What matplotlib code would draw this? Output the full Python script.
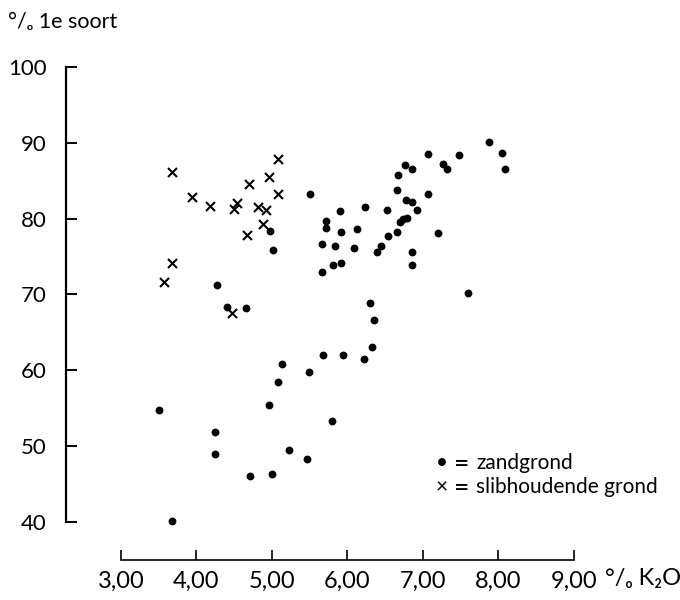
import matplotlib.pyplot as plt

# zandgrond (dots): % K2O vs % 1e soort
zand_k2o = [5.50, 4.98, 5.01, 4.27, 4.40, 4.65, 5.66, 5.83, 5.72, 5.72,
            5.66, 5.81, 5.91, 5.90, 6.23, 6.52, 5.92, 6.12, 6.09, 6.39,
            6.45, 6.53, 6.66, 6.69, 6.73, 6.79, 6.92, 6.78, 6.86, 6.66,
            6.67, 6.76, 6.85, 7.06, 7.06, 7.20, 6.85, 6.86, 7.26, 7.32,
            7.48, 7.88, 8.04, 8.09, 7.60, 6.30, 6.35, 6.33, 5.68, 5.94,
            6.22, 5.49, 5.79, 5.13, 5.08, 4.96, 3.51, 4.24, 4.25, 5.23,
            4.71, 5.00, 3.68, 5.46]
zand_soort = [83.3, 78.4, 75.9, 71.2, 68.3, 68.2, 76.7, 76.4, 79.7, 78.8,
              73.0, 73.9, 74.2, 81.0, 81.5, 81.1, 78.2, 78.6, 76.1, 75.6,
              76.4, 77.7, 78.2, 79.5, 80.0, 80.1, 81.1, 82.5, 82.2, 83.8,
              85.8, 87.1, 86.5, 88.5, 83.2, 78.1, 75.6, 73.9, 87.2, 86.6,
              88.4, 90.1, 88.6, 86.5, 70.2, 68.9, 66.7, 63.1, 62.0, 62.0,
              61.5, 59.8, 53.3, 60.8, 58.5, 55.4, 54.8, 51.8, 49.0, 49.5,
              46.0, 46.3, 40.1, 48.3]

# slibhoudende grond (crosses)
slib_k2o = [5.08, 3.67, 4.96, 4.70, 5.08, 3.94, 4.18, 4.54, 4.50, 4.82,
            4.92, 4.88, 4.67, 3.68, 3.57, 4.47]
slib_soort = [87.8, 86.2, 85.5, 84.6, 83.2, 82.9, 81.7, 82.0, 81.3, 81.6,
              81.1, 79.3, 77.8, 74.2, 71.7, 67.6]

x_ticks = [3, 4, 5, 6, 7, 8, 9]
x_labels = ["3,00", "4,00", "5,00", "6,00", "7,00", "8,00", "9,00"]
y_ticks = [40, 50, 60, 70, 80, 90, 100]
legend_labels = ["zandgrond", "slibhoudende grond"]

FONT = ["Lato", "DejaVu Sans"]
plt.rcParams["font.family"] = FONT

fig = plt.figure(figsize=(6.8, 6.0), dpi=100)
ax = fig.add_axes([0.0891, 0.0542, 0.7772, 0.8468])
ax.set_xlim(2.2, 9.2)
ax.set_ylim(34, 101)

ax.scatter(zand_k2o, zand_soort, marker="o", s=32, color="black",
           linewidths=0, zorder=3)
ax.scatter(slib_k2o, slib_soort, marker="x", s=42, color="black",
           linewidths=1.5, zorder=3)

# detached axes like the printed figure
for side in ["top", "right"]:
    ax.spines[side].set_visible(False)
ax.spines["left"].set_position(("data", 2.27))
ax.spines["left"].set_bounds(40, 100)
ax.spines["left"].set_linewidth(1.6)
ax.spines["bottom"].set_position(("data", 35.0))
ax.spines["bottom"].set_bounds(3, 9)
ax.spines["bottom"].set_linewidth(1.2)

ax.set_xticks(x_ticks)
ax.set_xticklabels(x_labels)
ax.set_yticks(y_ticks)
ax.tick_params(axis="y", direction="in", length=8, width=1.4, pad=14,
               labelsize=16)
ax.tick_params(axis="x", direction="in", length=7, width=1.2, pad=8,
               labelsize=17)

fig.text(8 / 680, 1 - 22 / 600, "°/ₒ 1e soort", fontsize=15.5, va="center",
         ha="left")
fig.text(605 / 680, 1 - 578 / 600, "°/ₒ K₂O", fontsize=17, va="center",
         ha="left")

# legend as printed text
rows_y = [463, 487]
symbols = ["•", "×"]
for sym, label, py in zip(symbols, legend_labels, rows_y):
    fig.text(442 / 680, 1 - py / 600, sym, fontsize=15, va="center",
             ha="center")
    fig.text(462 / 680, 1 - (py + 1) / 600, "=", fontsize=19, va="center",
             ha="center")
    fig.text(476 / 680, 1 - py / 600, label, fontsize=15, va="center",
             ha="left")

fig.savefig("out.png", dpi=100)
